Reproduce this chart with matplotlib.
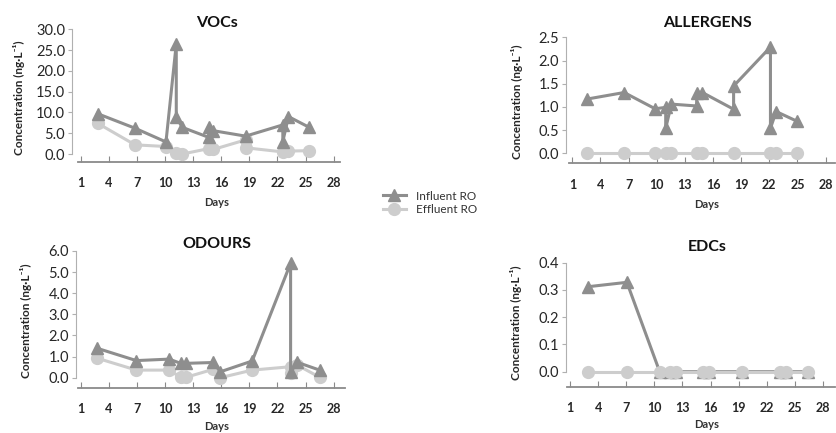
import matplotlib
matplotlib.use("Agg")
from matplotlib import pyplot as plt
from matplotlib.lines import Line2D

plt.rcParams['font.family'] = ['Lato', 'DejaVu Sans']

# VOCs
voc_in_days = [2.8, 6.8, 10.1, 11.2, 11.2, 11.85, 14.67, 14.67, 15.16, 18.6, 22.57, 22.57, 23.17, 25.4]
voc_in_vals = [9.7, 6.2, 2.9, 26.5, 8.8, 6.4, 4.0, 6.4, 5.6, 4.3, 7.0, 3.0, 9.0, 6.4]
voc_out_days = [2.8, 6.8, 10.1, 11.2, 11.85, 14.67, 15.16, 18.6, 18.6, 22.57, 23.17, 25.4]
voc_out_vals = [7.4, 2.2, 1.8, 0.2, 0.0, 1.3, 1.1, 3.4, 1.5, 0.5, 0.7, 0.8]

# ALLERGENS
all_in_days = [2.6, 6.53, 9.83, 10.96, 10.96, 11.57, 14.26, 14.26, 14.87, 18.2, 18.2, 22.13, 22.13, 22.74, 24.97]
all_in_vals = [1.17, 1.31, 0.96, 0.99, 0.54, 1.06, 1.02, 1.31, 1.31, 0.95, 1.45, 2.29, 0.54, 0.90, 0.69]
all_out_days = [2.6, 6.53, 9.83, 10.96, 11.57, 14.26, 14.87, 18.2, 22.13, 22.74, 24.97]
all_out_vals = [0, 0, 0, 0, 0, 0, 0, 0, 0, 0, 0]

# ODOURS
odo_in_days = [2.78, 6.94, 10.43, 11.68, 12.25, 15.16, 15.9, 19.3, 23.4, 23.4, 24.1, 26.5]
odo_in_vals = [1.39, 0.81, 0.88, 0.68, 0.68, 0.72, 0.28, 0.79, 5.42, 0.25, 0.73, 0.36]
odo_out_days = [2.78, 6.94, 10.43, 11.68, 12.25, 15.16, 15.9, 19.3, 23.4, 23.4, 24.1, 26.5]
odo_out_vals = [0.92, 0.36, 0.36, 0.02, 0.02, 0.4, 0.0, 0.36, 0.52, 0.23, 0.6, 0.02]

# EDCs
edc_days = [2.96, 7.07, 10.57, 11.7, 12.3, 15.2, 15.86, 19.36, 23.46, 24.1, 26.4]
edc_in_vals = [0.312, 0.328, 0, 0, 0, 0, 0, 0, 0, 0, 0]
edc_out_vals = [0, 0, 0, 0, 0, 0, 0, 0, 0, 0, 0]

x_ticks = [1, 4, 7, 10, 13, 16, 19, 22, 25, 28]

W, H = 836, 433
fig = plt.figure(figsize=(W / 100, H / 100), dpi=100)

c_in = '#8e8e8e'
c_out = '#cdcdcd'
c_axis = '#8a8a8a'
c_text = '#262626'


def panel(left, top, bottom, p1, p28, right, gap, ymax, ystep,
          title, tx, ty, din, vin, dout, vout, ylx, dayy, out_on_top=False):
    ax = fig.add_axes([left / W, 1 - bottom / H, (right - left) / W, (bottom - top) / H])
    s = (p28 - p1) / 27
    ax.set_xlim(1 - (p1 - left) / s, 1 + (right - p1) / s)
    ax.set_ylim(0, ymax)
    ax.plot(dout, vout, color=c_out, lw=2.2, marker='o', ms=8.5, clip_on=False,
            zorder=5 if out_on_top else 3)
    ax.plot(din, vin, color=c_in, lw=2.2, marker='^', ms=8.5, clip_on=False, zorder=4)
    for sp in ['top', 'right']:
        ax.spines[sp].set_visible(False)
    ax.spines['left'].set_bounds(0, ymax)
    ax.spines['left'].set_color('#b0b0b0')
    ax.spines['bottom'].set_position(('outward', gap * 0.72))
    ax.spines['bottom'].set_bounds(1 - 3 / s, 1 + (right - p1) / s)
    ax.spines['bottom'].set_color(c_axis)
    ax.spines['bottom'].set_linewidth(1.3)
    yt = [i * ystep for i in range(int(round(ymax / ystep)) + 1)]
    ax.set_yticks(yt)
    ax.set_yticklabels([('%.1f' % v) for v in yt], fontsize=10.5, color=c_text)
    ax.tick_params(axis='y', direction='out', length=3, color='#b0b0b0', pad=2)
    ax.set_xticks(x_ticks)
    ax.set_xticklabels([str(t) for t in x_ticks], fontsize=9, color=c_text, fontweight='bold')
    ax.tick_params(axis='x', direction='in', length=4, color=c_axis, pad=11)
    fig.text(tx / W, 1 - ty / H, title, ha='center', va='center', fontsize=11.5,
             fontweight='bold', color='#111111')
    fig.text(ylx / W, 1 - ((top + bottom) / 2 + 6) / H, 'Concentration (ng·L⁻¹)',
             rotation=90, ha='center', va='center', fontsize=8.5, fontweight='bold', color=c_text)
    fig.text(tx / W, 1 - dayy / H, 'Days', ha='center', va='center', fontsize=8,
             fontweight='bold', color='#333333')
    return ax


panel(72, 29.3, 154, 80.7, 333.7, 340, 8, 30, 5, 'VOCs', 217, 23,
      voc_in_days, voc_in_vals, voc_out_days, voc_out_vals, 19, 202)
panel(566, 37.3, 153.3, 572.3, 825.5, 835, 10, 2.5, 0.5, 'ALLERGENS', 707, 23,
      all_in_days, all_in_vals, all_out_days, all_out_vals, 517, 205)
panel(76, 251, 377.7, 80.7, 333.7, 345, 10, 6, 1, 'ODOURS', 217, 244,
      odo_in_days, odo_in_vals, odo_out_days, odo_out_vals, 26, 426)
panel(566, 262.7, 371.7, 570, 823, 835, 15, 0.4, 0.1, 'EDCs', 707, 247,
      edc_days, edc_in_vals, edc_days, edc_out_vals, 516, 425, out_on_top=True)

handles = [Line2D([], [], color=c_in, lw=2.2, marker='^', ms=8.5),
           Line2D([], [], color=c_out, lw=2.2, marker='o', ms=8.5)]
fig.legend(handles, ['Influent RO', 'Effluent RO'], loc='center left',
           bbox_to_anchor=(372 / W, 1 - 203 / H), frameon=False, fontsize=8.5,
           handlelength=2.0, handletextpad=0.8, labelspacing=0.25, labelcolor='#333333')

fig.savefig('out.png', dpi=100)
